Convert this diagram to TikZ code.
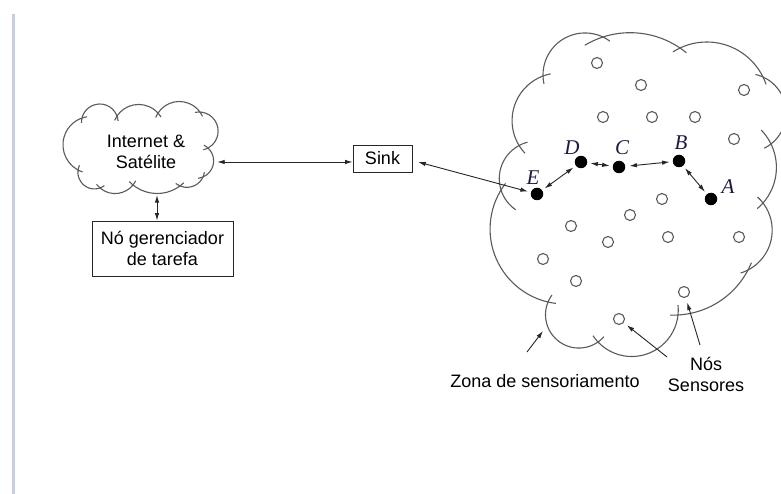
\documentclass[tikz,border=0pt]{standalone}
\usepackage{fontspec}
\setmainfont{Liberation Sans}
\newfontfamily\letterfont{Liberation Serif}
\usetikzlibrary{arrows.meta}
\definecolor{barcol}{HTML}{C7D0E2}
\definecolor{cloudcol}{HTML}{5A5A5A}
\definecolor{inkcol}{HTML}{262626}
\definecolor{lettercol}{HTML}{1C1C40}
% one lobe of a cloud: arc from (#1,#2) to (#3,#4) (image coords, y down),
% bulging outward by #5, extended by #6 at the start and #7 at the end
\newcommand\cloudlobe[7]{%
  \pgfmathsetmacro\lbxa{#1}\pgfmathsetmacro\lbya{-(#2)}%
  \pgfmathsetmacro\lbxb{#3}\pgfmathsetmacro\lbyb{-(#4)}%
  \pgfmathsetmacro\lbh{veclen(\lbxb-\lbxa,\lbyb-\lbya)/2}%
  \pgfmathsetmacro\lbR{(\lbh*\lbh+#5*#5)/(2*#5)}%
  \pgfmathsetmacro\lbph{atan2(\lbyb-\lbya,\lbxb-\lbxa)}%
  \pgfmathsetmacro\lbcx{(\lbxa+\lbxb)/2+(\lbR-#5)*cos(\lbph-90)}%
  \pgfmathsetmacro\lbcy{(\lbya+\lbyb)/2+(\lbR-#5)*sin(\lbph-90)}%
  \pgfmathsetmacro\lbaa{atan2(\lbya-\lbcy,\lbxa-\lbcx)}%
  \pgfmathsetmacro\lbbb{atan2(\lbh,\lbR-#5)}%
  \pgfmathsetmacro\lbst{\lbaa+#6/\lbR*57.2958}%
  \pgfmathsetmacro\lben{\lbaa-2*\lbbb-#7/\lbR*57.2958}%
  \draw[cloudline] (\lbcx pt,\lbcy pt) ++(\lbst:\lbR pt) arc[start angle=\lbst,end angle=\lben,radius=\lbR pt];%
}
\begin{document}
\begin{tikzpicture}[x=1pt,y=1pt,
  >={Latex[length=7.5pt,width=4.5pt]},
  cloudline/.style={draw=cloudcol,line width=1.1pt},
  boxnode/.style={draw=inkcol,line width=0.9pt,inner sep=0pt,align=center,font=\fontsize{18}{20.7}\selectfont},
  txt/.style={inner sep=0pt,align=center,font=\fontsize{18}{20.7}\selectfont},
  link/.style={draw=inkcol,line width=0.9pt},
  sensor/.style={circle,draw=cloudcol,line width=1.1pt,minimum size=11pt,inner sep=0pt},
  active/.style={circle,fill=black,minimum size=12.5pt,inner sep=0pt},
  letter/.style={inner sep=0pt,font=\letterfont\itshape\fontsize{21}{21}\selectfont,text=lettercol},
]
\useasboundingbox (0,0) rectangle (781,-494);
\fill[white] (0,0) rectangle (781,-494);
\begin{scope}
\clip (0,0) rectangle (781,-494);
% left bar
\draw[barcol,line width=3pt] (13.5,-14) -- (13.5,-494);

% left cloud
\cloudlobe{78}{170}{82}{118}{17}{5}{5}
\cloudlobe{82}{118}{117}{116}{13}{5}{5}
\cloudlobe{117}{116}{158}{113}{10}{5}{5}
\cloudlobe{158}{113}{200}{112}{11}{5}{5}
\cloudlobe{200}{112}{208}{148}{14}{5}{5}
\cloudlobe{208}{148}{203}{177}{8}{5}{5}
\cloudlobe{203}{177}{180}{186}{5}{5}{5}
\cloudlobe{180}{186}{133}{185}{8}{5}{5}
\cloudlobe{133}{185}{100}{188}{7}{5}{5}
\cloudlobe{100}{188}{78}{170}{8}{5}{5}

% right cloud (sensing zone)
\cloudlobe{520}{147}{543}{76}{18}{8}{8}
\cloudlobe{543}{76}{603}{37}{20}{8}{8}
\cloudlobe{603}{37}{680}{48}{9}{20}{8}
\cloudlobe{680}{48}{763}{77}{18}{8}{8}
\cloudlobe{763}{77}{771}{144}{19}{8}{8}
\cloudlobe{771}{144}{763}{203}{9}{17}{8}
\cloudlobe{763}{203}{748}{270}{16}{8}{8}
\cloudlobe{748}{270}{678}{315}{11}{8}{8}
\cloudlobe{678}{315}{598}{342}{27}{10}{8}
\cloudlobe{598}{342}{548}{302}{24}{8}{8}
\cloudlobe{548}{302}{501}{190}{31}{8}{8}
\cloudlobe{501}{190}{520}{145}{9}{25}{8}

% nodes
\node[txt,minimum width=142pt,minimum height=86pt] (inet) at (146,-152) {Internet \&\\Satélite};
\node[boxnode,minimum width=141pt,minimum height=55pt] (task) at (162.5,-248.5) {Nó gerenciador\\de tarefa};
\node[boxnode,minimum width=59pt,minimum height=27pt] (sink) at (382.5,-158.5) {Sink};

% sensor nodes
\foreach \i/\x/\y in {1/597/63,2/641/85,3/744/90,4/603/117,5/652/117,6/695/117,7/734/139,
  8/662/199,9/630/215,10/571/226,11/668/237,12/608/242,13/739/237,14/543/259,15/576/281,
  16/684/292,17/619/319}
  \node[sensor] (s\i) at (\x,-\y) {};

% active path nodes
\node[active] (E) at (537,-194) {};
\node[active] (D) at (581,-162) {};
\node[active] (C) at (619,-167) {};
\node[active] (B) at (679,-161) {};
\node[active] (A) at (711,-199) {};
\node[letter] (lE) at (533,-178) {E};
\node[letter] (lD) at (572,-148) {D};
\node[letter] (lC) at (622,-148) {C};
\node[letter] (lB) at (681,-143) {B};
\node[letter] (lA) at (728,-187) {A};

% connectors
\coordinate (sinkin) at ([yshift=-3.5pt]sink.west);
\draw[link,<->] (inet.east |- sinkin) -- (sinkin);
\draw[link,<->] ([xshift=11pt]inet.south) -- ([xshift=-5.5pt]task.north);
\draw[link,<->,shorten <=6pt,shorten >=3pt] ([yshift=-2pt]sink.east) -- (E);
\draw[link,<->,shorten <=3pt,shorten >=3pt] (E) -- (D);
\draw[link,<->,shorten <=3pt,shorten >=3pt] (D) -- (C);
\draw[link,<->,shorten <=4pt,shorten >=3pt] (C) -- (B);
\draw[link,<->,shorten <=3pt,shorten >=3pt] (B) -- (A);

% labels and pointers
\node[txt,anchor=base] (zona) at (545,-387) {Zona de sensoriamento};
\node[txt,anchor=base] (nos) at (706,-391.5) {Nós\\Sensores};
\coordinate (zt) at (527,-352);
\coordinate (zh) at (543,-331);
\draw[link,->] (zt) -- (zh);
\coordinate (n1) at (667,-357);
\coordinate (n2) at (700,-345);
\draw[link,->,shorten >=4pt] (n1) -- (s17);
\draw[link,->,shorten >=5pt] (n2) -- (s16);
\end{scope}
\end{tikzpicture}
\end{document}
